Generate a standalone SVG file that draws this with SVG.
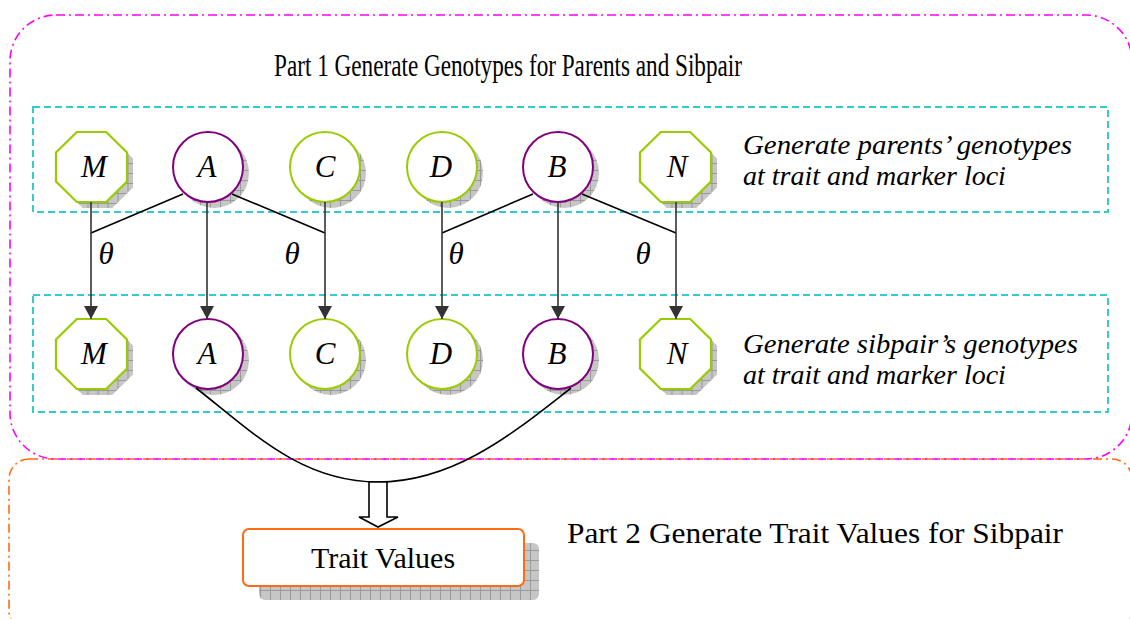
<svg xmlns="http://www.w3.org/2000/svg" width="1130" height="619" viewBox="0 0 1130 619">
  <defs>
    <pattern id="hatch" width="10" height="10" patternUnits="userSpaceOnUse">
      <rect width="10" height="10" fill="#c6c6c6"/>
      <path d="M0 0.5H10M0.5 0V10" stroke="#9a9a9a" stroke-width="1"/>
    </pattern>
    <marker id="arr" viewBox="0 0 14 14" refX="13" refY="7" markerWidth="14" markerHeight="14" markerUnits="userSpaceOnUse" orient="auto">
      <path d="M0 0L13 7L0 14Z" fill="#333"/>
    </marker>
    <polygon id="oct" points="-14.7,-35 14.7,-35 35.5,-14.5 35.5,14.5 14.7,35 -14.7,35 -35.5,14.5 -35.5,-14.5"/>
  </defs>
  <style>
    .frame1 { fill: none; stroke: #ff00ff; stroke-width: 1.6; stroke-dasharray: 9 4 2 4; }
    .frame2 { fill: none; stroke: #ff6a13; stroke-width: 1.6; stroke-dasharray: 9 4 2 4; }
    .band { fill: none; stroke: #33cccc; stroke-width: 2; stroke-dasharray: 7 4; }
    .shadow { fill: url(#hatch); }
    .oct { fill: #fff; stroke: #99cc00; stroke-width: 2.2; }
    .trait { fill: #fff; stroke: #800080; stroke-width: 2; }
    .marker { fill: #fff; stroke: #99cc00; stroke-width: 2; }
    .lbl { font-family: "Liberation Serif", "Times New Roman", serif; font-style: italic; font-size: 31px; fill: #000; text-anchor: middle; }
    .txt { font-family: "Liberation Serif", "Times New Roman", serif; font-size: 30px; fill: #000; }
    .title { font-size: 32px; }
    .note { font-family: "Liberation Serif", "Times New Roman", serif; font-style: italic; font-size: 28px; fill: #000; }
    .link { fill: none; stroke: #000; stroke-width: 1.6; }
    .inh { fill: none; stroke: #333; stroke-width: 1.6; marker-end: url(#arr); }
  </style>

  <!-- stage frames -->
  <rect class="frame2" x="9" y="459" width="1123" height="172" rx="20"/>
  <rect class="frame1" x="10" y="15" width="1122" height="444" rx="46"/>
  <text class="txt title" x="274" y="76" textLength="468" lengthAdjust="spacingAndGlyphs">Part 1 Generate Genotypes for Parents and Sibpair</text>
  <text class="txt" x="567" y="543" textLength="496" lengthAdjust="spacingAndGlyphs">Part 2 Generate Trait Values for Sibpair</text>

  <!-- generation bands -->
  <rect class="band" x="33" y="107" width="1075" height="105"/>
  <rect class="band" x="33" y="295" width="1075" height="117"/>
  <text class="note" x="743" y="154" textLength="329" lengthAdjust="spacingAndGlyphs">Generate parents’ genotypes</text>
  <text class="note" x="743" y="185">at trait and marker loci</text>
  <text class="note" x="743" y="353" textLength="335" lengthAdjust="spacingAndGlyphs">Generate sibpair’s genotypes</text>
  <text class="note" x="743" y="384">at trait and marker loci</text>

  <!-- parents -->
  <g id="pM"><use href="#oct" class="shadow" transform="translate(97.5,173)"/><use href="#oct" class="oct" transform="translate(91.5,167)"/><text class="lbl" x="94" y="177">M</text></g>
  <g id="pA"><circle class="shadow" cx="214" cy="173" r="35"/><circle class="trait" cx="208" cy="167" r="35"/><text class="lbl" x="207" y="177">A</text></g>
  <g id="pC"><circle class="shadow" cx="331" cy="173" r="35"/><circle class="marker" cx="325" cy="167" r="35"/><text class="lbl" x="325" y="177">C</text></g>
  <g id="pD"><circle class="shadow" cx="448" cy="173" r="35"/><circle class="marker" cx="442" cy="167" r="35"/><text class="lbl" x="441" y="177">D</text></g>
  <g id="pB"><circle class="shadow" cx="564" cy="173" r="35"/><circle class="trait" cx="558" cy="167" r="35"/><text class="lbl" x="557" y="177">B</text></g>
  <g id="pN"><use href="#oct" class="shadow" transform="translate(681.5,173)"/><use href="#oct" class="oct" transform="translate(675.5,167)"/><text class="lbl" x="677" y="177">N</text></g>

  <!-- sibpair -->
  <g id="sM"><use href="#oct" class="shadow" transform="translate(97.5,360)"/><use href="#oct" class="oct" transform="translate(91.5,354)"/><text class="lbl" x="94" y="364">M</text></g>
  <g id="sA"><circle class="shadow" cx="214" cy="360" r="35"/><circle class="trait" cx="208" cy="354" r="35"/><text class="lbl" x="207" y="364">A</text></g>
  <g id="sC"><circle class="shadow" cx="331" cy="360" r="35"/><circle class="marker" cx="325" cy="354" r="35"/><text class="lbl" x="325" y="364">C</text></g>
  <g id="sD"><circle class="shadow" cx="448" cy="360" r="35"/><circle class="marker" cx="442" cy="354" r="35"/><text class="lbl" x="441" y="364">D</text></g>
  <g id="sB"><circle class="shadow" cx="564" cy="360" r="35"/><circle class="trait" cx="558" cy="354" r="35"/><text class="lbl" x="557" y="364">B</text></g>
  <g id="sN"><use href="#oct" class="shadow" transform="translate(681.5,360)"/><use href="#oct" class="oct" transform="translate(675.5,354)"/><text class="lbl" x="677" y="364">N</text></g>

  <!-- trait values -->
  <g id="traitValues">
    <rect class="shadow" x="259" y="543" width="280" height="57" rx="6"/>
    <rect x="243" y="529" width="281" height="57" rx="6" fill="#fff" stroke="#ff6a13" stroke-width="2"/>
    <text class="txt" x="383" y="568" text-anchor="middle">Trait Values</text>
  </g>

  <!-- connectors -->
  <g id="connectors">
    <line class="link" x1="183" y1="194" x2="91" y2="233"/>
    <line class="link" x1="232" y1="194" x2="325" y2="233"/>
    <line class="link" x1="533" y1="194" x2="442" y2="233"/>
    <line class="link" x1="582" y1="194" x2="676" y2="233"/>
    <line class="inh" x1="91" y1="202" x2="91" y2="319"/>
    <line class="inh" x1="207" y1="202" x2="207" y2="319"/>
    <line class="inh" x1="325" y1="202" x2="325" y2="319"/>
    <line class="inh" x1="442" y1="202" x2="442" y2="319"/>
    <line class="inh" x1="558" y1="202" x2="558" y2="319"/>
    <line class="inh" x1="676" y1="202" x2="676" y2="319"/>
    <text class="lbl" x="106" y="264">θ</text>
    <text class="lbl" x="292" y="264">θ</text>
    <text class="lbl" x="456" y="264">θ</text>
    <text class="lbl" x="643" y="264">θ</text>
    <path class="link" d="M196 388C250 430 300 482 378 482C456 482 517 430 571 388"/>
    <polygon points="369,482 387,482 387,517 398,517 378,527 359,517 369,517" fill="#fff" stroke="#000" stroke-width="1.6"/>
  </g>
</svg>
